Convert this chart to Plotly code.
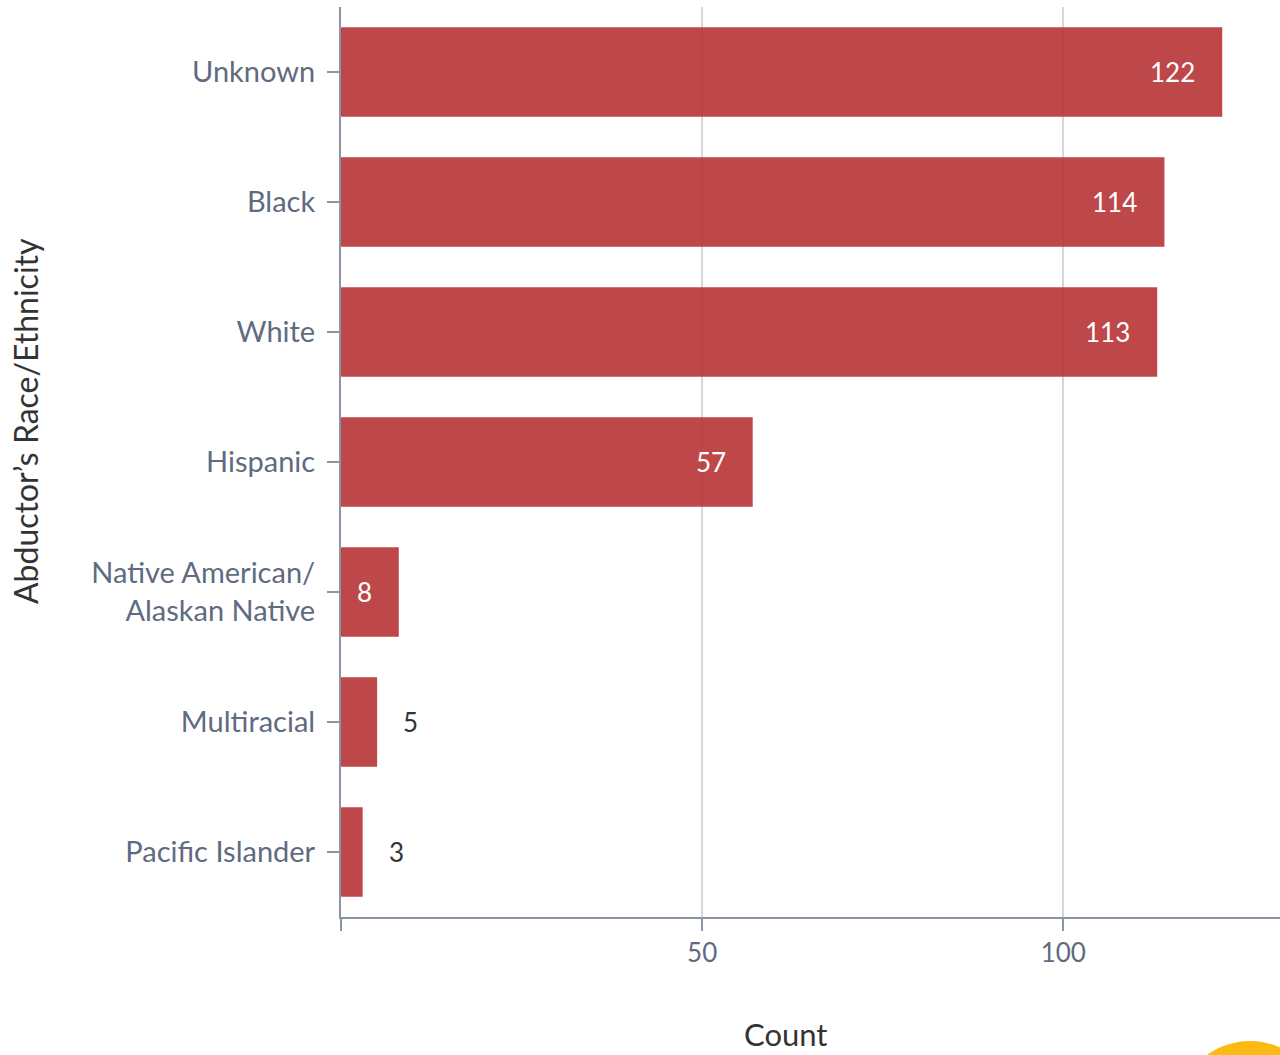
import plotly.graph_objects as go

# Counts of abductor race/ethnicity
categories = ["Unknown", "Black", "White", "Hispanic",
              "Native American/<br>Alaskan Native", "Multiracial", "Pacific Islander"]
counts = [122, 114, 113, 57, 8, 5, 3]
x_ticks = [0, 50, 100]
x_tick_text = ["", "50", "100"]

W, H = 1280, 1055
ML, MR, MT, MB = 341, 0, 7, 138
FONT = "Lato, 'Source Sans Pro', sans-serif"
BAR = "rgba(185,55,58,0.92)"
AXIS = "#8c95a5"
TICK_TXT = "#5f6b80"

fig = go.Figure(go.Bar(
    x=counts, y=categories, orientation="h",
    marker=dict(color=BAR, line=dict(width=0)),
    hoverinfo="x+y",
))

# value labels: inside the bar end for longer bars, just past it for short ones
for c, v in zip(categories, counts):
    inside = v >= 8
    fig.add_annotation(
        x=v, y=c, xref="x", yref="y", text=str(v), showarrow=False,
        xanchor="right" if inside else "left", yanchor="middle",
        xshift=-25 if inside else 24,
        font=dict(family=FONT, size=26, color="white" if inside else "#333333"),
    )

# axis titles
fig.add_annotation(x=(785 - ML) / (W - ML - MR), y=(H - 1034 - MB) / (H - MT - MB),
                   xref="paper", yref="paper", text="Count", showarrow=False,
                   xanchor="center", yanchor="middle",
                   font=dict(family=FONT, size=31, color="#333333"))
fig.add_annotation(x=(25 - ML) / (W - ML - MR), y=(H - 421 - MB) / (H - MT - MB),
                   xref="paper", yref="paper", text="Abductor\u2019s Race/Ethnicity",
                   textangle=-90, showarrow=False,
                   xanchor="center", yanchor="middle",
                   font=dict(family=FONT, size=32, color="#333333"))

# round badge in the bottom-right corner
fig.add_shape(type="circle", xref="paper", yref="paper",
              xsizemode="pixel", ysizemode="pixel", xanchor=1, yanchor=0,
              x0=-103, x1=43, y0=-270, y1=-124,
              fillcolor="#FDB913", line=dict(width=0), layer="above")

fig.update_layout(
    width=W, height=H,
    margin=dict(l=ML, r=MR, t=MT, b=MB),
    paper_bgcolor="white", plot_bgcolor="white",
    bargap=0.31, showlegend=False,
    font=dict(family=FONT),
    xaxis=dict(range=[0, 130], tickvals=x_ticks, ticktext=x_tick_text, showgrid=True,
               gridcolor="#d3d7df", gridwidth=2, zeroline=False,
               showline=True, linecolor=AXIS, linewidth=2,
               ticks="outside", ticklen=12, tickwidth=2, tickcolor=AXIS,
               tickfont=dict(family=FONT, size=26, color=TICK_TXT)),
    yaxis=dict(autorange="reversed", showgrid=False, zeroline=False,
               showline=True, linecolor=AXIS, linewidth=2,
               ticks="outside", ticklen=12, tickwidth=2, tickcolor=AXIS,
               ticklabelstandoff=6,
               tickfont=dict(family=FONT, size=29, color=TICK_TXT)),
)

fig.write_html("out.html")
